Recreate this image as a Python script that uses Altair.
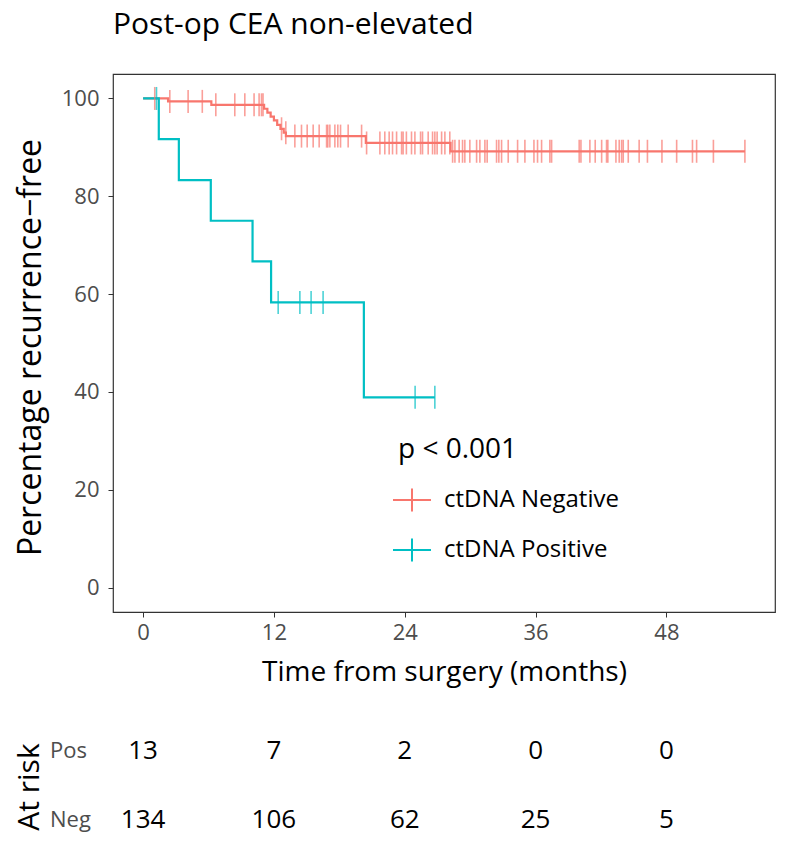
import altair as alt
import pandas as pd
from bisect import bisect_right

FONT = "Open Sans"

groups = ["ctDNA Negative", "ctDNA Positive"]
colors = ["#F8766D", "#00BFC4"]

# Kaplan-Meier step curves (time in months, % recurrence-free)
neg_step_times = [0, 2.29, 6.26, 11.1, 11.4, 11.7, 12.0, 12.3, 12.6, 12.9, 13.1, 20.43, 28.2, 55.2]
neg_step_surv = [100, 99.4, 98.7, 97.9, 97.1, 96.3, 95.5, 94.6, 93.8, 93.0, 92.3, 90.9, 89.2, 89.2]
pos_step_times = [0, 1.44, 3.28, 6.21, 10.04, 11.74, 20.25, 26.76]
pos_step_surv = [100, 91.7, 83.3, 75.0, 66.7, 58.3, 38.9, 38.9]

# censoring times
neg_censor = [1.07, 2.45, 4.13, 5.43, 6.67, 8.41, 9.33, 10.18, 10.64, 10.86, 11.0,
              12.70, 13.09, 13.92, 14.53, 15.05, 15.60, 16.15, 16.83, 16.94, 17.13,
              17.59, 17.86, 18.11, 18.81, 20.04, 20.50, 21.72, 22.17, 22.57, 22.88,
              23.25, 23.71, 23.85, 24.15, 24.62, 24.93, 25.45, 25.63, 26.15, 26.55,
              26.76, 26.97, 27.38, 27.68, 28.13, 28.39, 28.60, 28.99, 29.30, 29.51,
              29.97, 30.59, 30.89, 31.35, 31.56, 32.42, 32.63, 32.88, 33.49, 34.35,
              35.02, 35.85, 36.18, 36.55, 37.31, 37.47, 40.0, 40.16, 40.98, 41.47,
              42.06, 42.51, 42.63, 43.37, 43.67, 43.89, 44.04, 44.50, 45.50, 46.26,
              47.59, 48.94, 50.39, 50.77, 52.31, 55.20]
pos_censor = [1.23, 12.39, 14.38, 15.41, 16.51, 24.95, 26.76]

# numbers at risk
risk_times = [0, 12, 24, 36, 48]
risk_pos = [13, 7, 2, 0, 0]
risk_neg = [134, 106, 62, 25, 5]

x_ticks = [0, 12, 24, 36, 48]
y_ticks = [0, 20, 40, 60, 80, 100]


def level_at(t, times, surv):
    return surv[bisect_right(times, t) - 1]


curve_rows = []
for g, ts, ss in [(groups[0], neg_step_times, neg_step_surv),
                  (groups[1], pos_step_times, pos_step_surv)]:
    for t, s in zip(ts, ss):
        curve_rows.append({"time": t, "surv": s, "group": g})
curves = pd.DataFrame(curve_rows)

cens_rows = []
for t in neg_censor:
    cens_rows.append({"time": t, "surv": level_at(t, neg_step_times, neg_step_surv), "group": groups[0]})
for t in pos_censor:
    cens_rows.append({"time": t, "surv": level_at(t, pos_step_times, pos_step_surv), "group": groups[1]})
cens = pd.DataFrame(cens_rows)

risk = pd.DataFrame({"time": risk_times * 2,
                     "n": [str(v) for v in risk_pos + risk_neg],
                     "row": ["Pos"] * 5 + ["Neg"] * 5})

W, H = 662, 538

xscale = alt.Scale(domain=[-2.76, 57.96], nice=False, zero=False)
yscale = alt.Scale(domain=[-5, 105], nice=False, zero=False)
color = alt.Color(
    "group:N",
    scale=alt.Scale(domain=groups, range=colors),
    legend=alt.Legend(
        title=None, orient="none", legendX=279, legendY=406,
        labelFontSize=24, labelFont=FONT, labelColor="black", labelLimit=0,
        symbolType="M-1,0L1,0M0,-0.6L0,0.6", symbolSize=1444, symbolStrokeWidth=2,
        rowPadding=14, labelOffset=12, padding=0,
    ),
)

xaxis = alt.Axis(values=x_ticks, title="Time from surgery (months)", grid=False,
                 domain=False, tickColor="#333333", tickSize=5, labelFontSize=22,
                 labelColor="#4D4D4D", labelFont=FONT, labelPadding=5,
                 titleFontSize=28, titleFont=FONT, titleFontWeight="normal",
                 titleColor="black", titleY=60, titleBaseline="middle")
yaxis = alt.Axis(values=y_ticks, title="Percentage recurrence\u2212free", grid=False,
                 domain=False, tickColor="#333333", tickSize=5, labelFontSize=22,
                 labelColor="#4D4D4D", labelFont=FONT, labelPadding=9,
                 titleFontSize=32, titleFont=FONT, titleFontWeight="normal",
                 titleColor="black", titleX=-83, titleY=273,
                 titleAlign="center", titleBaseline="middle")

lines = alt.Chart(curves).mark_line(interpolate="step-after", strokeWidth=2.2).encode(
    x=alt.X("time:Q", scale=xscale, axis=xaxis),
    y=alt.Y("surv:Q", scale=yscale, axis=yaxis),
    color=color,
    detail="group:N",
)

ticks = alt.Chart(cens).mark_tick(orient="vertical", size=23, thickness=1.6).encode(
    x=alt.X("time:Q", scale=xscale),
    y=alt.Y("surv:Q", scale=yscale),
    color=alt.Color("group:N", scale=alt.Scale(domain=groups, range=colors), legend=None),
)

pos_nums = alt.Chart(risk[risk["row"] == "Pos"]).mark_text(
    fontSize=26, font=FONT, color="black", baseline="middle", align="center"
).encode(x=alt.X("time:Q", scale=xscale), y=alt.value(677), text="n:N")

neg_nums = alt.Chart(risk[risk["row"] == "Neg"]).mark_text(
    fontSize=26, font=FONT, color="black", baseline="middle", align="center"
).encode(x=alt.X("time:Q", scale=xscale), y=alt.value(746), text="n:N")

row_labels = alt.Chart(pd.DataFrame({"lab": ["Pos", "Neg"], "yy": [677, 746]})).mark_text(
    fontSize=22, font=FONT, color="#4D4D4D", baseline="middle", align="left"
).encode(x=alt.value(-63), y=alt.Y("yy:Q", scale=None), text="lab:N")

at_risk = alt.Chart(pd.DataFrame({"t": ["At risk"]})).mark_text(
    fontSize=30, font=FONT, color="black", angle=270, baseline="middle", align="center"
).encode(x=alt.value(-83), y=alt.value(713), text="t:N")

pval = alt.Chart(pd.DataFrame({"t": ["p < 0.001"]})).mark_text(
    fontSize=28, font=FONT, color="black", baseline="middle", align="left"
).encode(x=alt.value(285), y=alt.value(376), text="t:N")

title = alt.Chart(pd.DataFrame({"t": ["Post-op CEA non-elevated"]})).mark_text(
    fontSize=30, font=FONT, color="black", baseline="alphabetic", align="left"
).encode(x=alt.value(0), y=alt.value(-40), text="t:N")

chart = alt.layer(lines, ticks, pos_nums, neg_nums, row_labels, at_risk, pval, title).properties(
    width=W, height=H,
    padding={"left": 105, "top": 66, "right": 17, "bottom": 228},
    autosize=alt.AutoSizeParams(type="none"),
).configure_view(stroke="#333333", strokeWidth=1.2).resolve_scale(color="shared")

chart.save("out.html", embed_options={"renderer": "svg", "actions": False})
